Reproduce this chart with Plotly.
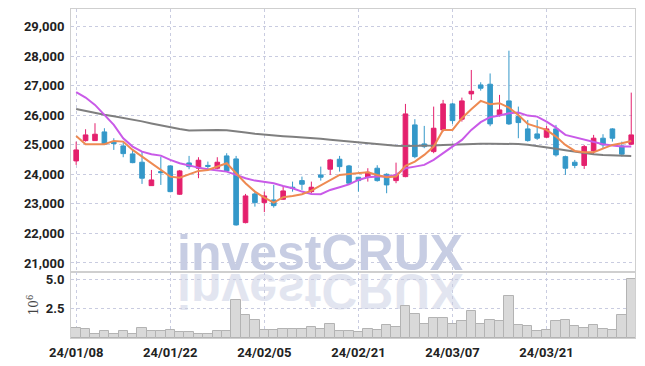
import plotly.graph_objects as go

dates = ["24/01/08","24/01/09","24/01/10","24/01/11","24/01/12","24/01/15","24/01/16","24/01/17","24/01/18","24/01/19",
         "24/01/22","24/01/23","24/01/24","24/01/25","24/01/26","24/01/29","24/01/30","24/01/31","24/02/01","24/02/02",
         "24/02/05","24/02/06","24/02/07","24/02/08","24/02/13","24/02/14","24/02/15","24/02/16","24/02/19","24/02/20",
         "24/02/21","24/02/22","24/02/23","24/02/26","24/02/27","24/02/28","24/02/29","24/03/04","24/03/05","24/03/06",
         "24/03/07","24/03/08","24/03/11","24/03/12","24/03/13","24/03/14","24/03/15","24/03/18","24/03/19","24/03/20",
         "24/03/21","24/03/22","24/03/25","24/03/26","24/03/27","24/03/28","24/03/29","24/04/01","24/04/02","24/04/03"]

opens = [24452,25139,25139,25433,25085,24959,24689,24408,23616,24090,
         24283,23325,24384,24205,24300,24205,24621,24520,22365,23336,
         23042,23133,23156,23562,23786,23413,23978,24171,24509,24283,
         23900,23900,24205,24000,23786,23921,25670,25027,24767,25501,
         26380,25863,26719,27022,27046,26008,26482,25952,25535,25365,
         25254,25535,24597,24408,24300,24790,25220,25535,24959,25017]
highs = [25105,25524,25727,25558,25220,25085,24858,24767,24147,24597,
         24300,24147,24621,24577,24430,24577,24712,24621,23336,23437,
         23415,23640,23606,23752,23921,23752,24259,24520,24621,24317,
         23910,24205,24306,24034,24394,26380,25863,25636,26289,26515,
         26424,26593,27528,27112,27410,26685,28180,26289,25838,25838,
         25636,25670,24630,24486,24993,25332,25355,25560,25105,26762]
lows = [24317,25105,25130,24993,24824,24577,24374,23674,23606,23640,
        23393,23300,24171,23867,24130,24171,24090,22263,22340,22906,
        22720,22872,23133,23413,23471,23359,23785,23978,24090,23680,
        23413,23752,23752,23359,23698,23900,24543,24882,24712,25443,
        25704,25782,26515,26830,25625,25952,25670,25220,25105,25163,
        25220,24597,23978,24205,24181,24655,24882,25105,24597,24993]
closes = [24824,25332,25355,25017,25037,24699,24394,23867,23809,24056,
          23413,24114,24259,24476,24270,24408,24114,22287,23268,23042,
          23268,22940,23437,23528,23664,23562,23900,24486,24259,23698,
          23786,24068,23786,23640,23978,26042,24597,24936,25558,26380,
          25815,26482,26807,26910,25704,26177,25704,25749,25139,25220,
          25535,24655,24205,24300,24936,25220,24993,25220,24680,25332]

ma_short = [25298,25017,25017,25017,25128,25105,24824,24597,24350,24147,
            23921,23887,24000,24114,24147,24259,24374,24034,23698,23415,
            23212,23042,23224,23268,23325,23447,23616,23809,23978,24012,
            24034,24068,23978,23900,23921,24283,24428,24655,24936,25501,
            25501,25897,26201,26482,26370,26404,26255,26008,25704,25612,
            25501,25274,24993,24790,24746,24746,24880,24993,25050,25128]
ma_mid = [26776,26594,26346,26008,25670,25220,24936,24767,24678,24631,
          24486,24374,24293,24225,24171,24124,24090,23978,23866,23786,
          23752,23698,23606,23528,23415,23336,23325,23471,23562,23660,
          23809,23900,23921,23921,23978,24205,24259,24317,24486,24712,
          24915,25163,25501,25761,25930,25985,26066,26086,25985,25951,
          25782,25578,25332,25254,25196,25105,25017,24970,24936,24936]
ma_long = [26208,26140,26070,26010,25960,25910,25860,25790,25720,25650,
           25580,25530,25480,25490,25500,25500,25490,25460,25410,25370,
           25335,25310,25290,25270,25255,25230,25200,25170,25140,25110,
           25080,25050,25020,24990,24965,24960,24960,24965,24975,24990,
           25005,25020,25025,25030,25035,25035,25030,25025,25000,24960,
           24910,24860,24810,24760,24715,24680,24655,24640,24625,24620]

volumes = [0.88,0.80,0.37,0.57,0.37,0.57,0.37,0.88,0.57,0.57,
           0.65,0.48,0.48,0.31,0.31,0.57,0.57,3.19,1.92,1.50,
           0.65,0.65,0.74,0.74,0.74,0.91,0.74,1.22,0.57,0.57,
           0.48,0.74,0.65,1.08,0.91,2.69,2.07,1.16,1.73,1.73,
           1.16,1.41,2.26,1.16,1.50,1.41,3.53,1.08,0.99,0.57,
           0.65,1.41,1.50,0.99,0.82,1.08,0.74,0.65,1.92,5.03]

price_ticks = [21000, 22000, 23000, 24000, 25000, 26000, 27000, 28000, 29000]
price_ticktext = ["21,000", "22,000", "23,000", "24,000", "25,000", "26,000", "27,000", "28,000", "29,000"]
vol_ticks = [2.5, 5.0]
vol_ticktext = ["2.5", "5.0"]
date_ticks = [dates[i] for i in range(0, 60, 10)]

UP = "#e4206d"
DOWN = "#3498c9"
GRID = "#c9cce0"
AXLINE = "#cfcfcf"
TICKFONT = dict(family="Roboto", size=13, color="#222222", weight=700)

fig = go.Figure()
fig.add_trace(go.Scatter(x=dates, y=ma_long, mode="lines", line=dict(color="#7f7f7f", width=2),
                         xaxis="x", yaxis="y", hoverinfo="skip"))
fig.add_trace(go.Candlestick(x=dates, open=opens, high=highs, low=lows, close=closes,
                             increasing=dict(line=dict(color=UP, width=1), fillcolor=UP),
                             decreasing=dict(line=dict(color=DOWN, width=1), fillcolor=DOWN),
                             xaxis="x", yaxis="y"))
fig.add_trace(go.Scatter(x=dates, y=ma_mid, mode="lines", line=dict(color="#c95ae8", width=2),
                         xaxis="x", yaxis="y", hoverinfo="skip"))
fig.add_trace(go.Scatter(x=dates, y=ma_short, mode="lines", line=dict(color="#ee8a52", width=2),
                         xaxis="x", yaxis="y", hoverinfo="skip"))
fig.add_trace(go.Bar(x=dates, y=volumes, marker=dict(color="#d9d9d9", line=dict(color="#b3b3b3", width=1)),
                     xaxis="x2", yaxis="y2"))

vol_frac = 0.2006
common = dict(showgrid=True, gridcolor=GRID, griddash="dot", gridwidth=1,
              showline=True, linecolor=AXLINE, linewidth=1, mirror=True, zeroline=False, automargin=False)
fig.update_layout(
    width=645, height=366,
    margin=dict(l=71, r=10, t=9, b=28, autoexpand=False),
    paper_bgcolor="white", plot_bgcolor="white",
    showlegend=False, bargap=0,
    xaxis=dict(type="category", domain=[0, 1], anchor="y", matches="x2", range=[-0.55, 59.4],
               rangeslider=dict(visible=False), showticklabels=False, tickvals=date_ticks, **common),
    xaxis2=dict(type="category", domain=[0, 1], anchor="y2", range=[-0.55, 59.4],
                tickvals=date_ticks, ticktext=date_ticks, tickfont=TICKFONT,
                ticks="outside", ticklen=2, tickcolor="rgba(0,0,0,0)", **common),
    yaxis=dict(domain=[vol_frac, 1], range=[20695, 29590], tickvals=price_ticks, ticktext=price_ticktext,
               tickfont=TICKFONT, ticks="outside", ticklen=3, tickcolor="rgba(0,0,0,0)", **common),
    yaxis2=dict(domain=[0, vol_frac], range=[0, 5.6], tickvals=vol_ticks, ticktext=vol_ticktext,
                tickfont=TICKFONT, ticks="outside", ticklen=3, tickcolor="rgba(0,0,0,0)",
                title=dict(text="10<sup>6</sup>", font=dict(family="DejaVu Serif", size=12, color="#444"), standoff=4),
                **common),
    annotations=[dict(text="investCRUX", xref="paper", yref="paper", x=0.442, y=vol_frac,
                      xanchor="center", yanchor="bottom", yshift=-11, showarrow=False,
                      font=dict(family="Liberation Sans", size=50, color="#c7cde3", weight=700))],
)

post = """
(function(){
  document.body.style.margin = '0';
  document.documentElement.style.margin = '0';
  var gd = document.getElementById('{plot_id}');
  function refl(){
    gd.querySelectorAll('.wm-refl').forEach(function(e){ e.remove(); });
    var main = gd.querySelector('svg.main-svg');
    if(!main) return;
    var below = main.querySelector('g.layer-below');
    if(!below) return;
    var ns = 'http://www.w3.org/2000/svg';
    gd.querySelectorAll('g.annotation').forEach(function(a){
      if(a.textContent.trim() === 'investCRUX'){
        a.style.display = '';
        var t = a.querySelector('text');
        var r = t.getBoundingClientRect();
        var top0 = main.getBoundingClientRect().top;
        var base = r.bottom - top0 - 0.21 * 50;
        var c1 = a.cloneNode(true);
        var c2 = a.cloneNode(true);
        var w1 = document.createElementNS(ns, 'g'); w1.setAttribute('class', 'wm-refl');
        w1.appendChild(c1);
        var w2 = document.createElementNS(ns, 'g'); w2.setAttribute('class', 'wm-refl');
        w2.setAttribute('transform', 'translate(0,' + (2 * base + 3) + ') scale(1,-1)');
        w2.setAttribute('opacity', '0.5');
        w2.appendChild(c2);
        below.appendChild(w1); below.appendChild(w2);
        a.style.display = 'none';
      }
    });
  }
  refl();
  gd.on('plotly_afterplot', refl);
})();
"""

fig.write_html("out.html", post_script=post, config={"displayModeBar": False})
